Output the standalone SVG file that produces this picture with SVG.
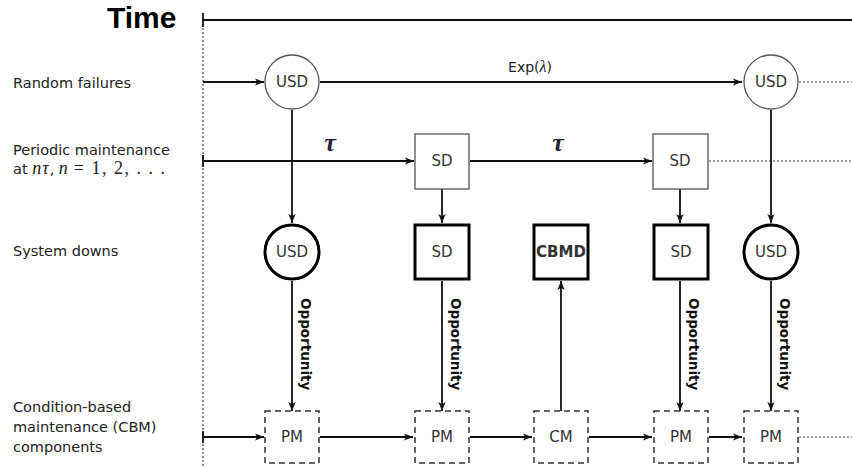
<svg xmlns="http://www.w3.org/2000/svg" width="852" height="468" viewBox="0 0 852 468">
<style>
.lbl{font-family:"DejaVu Sans",sans-serif;font-size:14.5px;fill:#222}
.m{font-family:"Liberation Serif",serif;font-size:18px}
.nt{font-family:"DejaVu Sans",sans-serif;font-size:15px;fill:#333;text-anchor:middle;dominant-baseline:central}
.thin{fill:#fff;stroke:#555;stroke-width:1.3}
.thick{fill:#fff;stroke:#000;stroke-width:3}
.dash{fill:#fff;stroke:#333;stroke-width:1.5;stroke-dasharray:6 4}
.ln{stroke:#111;stroke-width:1.8;fill:none}
.ar{stroke:#111;stroke-width:1.8;fill:none;marker-end:url(#ah)}
.dot{stroke:#444;stroke-width:1.2;stroke-dasharray:2 2;fill:none}
.opp{font-family:"DejaVu Sans",sans-serif;font-size:13.5px;font-weight:bold;fill:#111}
</style>
<defs>
<marker id="ah" viewBox="0 0 10 10" refX="10" refY="5" markerWidth="9" markerHeight="9" markerUnits="userSpaceOnUse" orient="auto">
<path d="M0,1 L10,5 L0,9 L2.5,5 Z" fill="#111"/>
</marker>
</defs>
<rect width="852" height="468" fill="#fff"/>
<text x="107" y="28" font-family="Liberation Sans,Arial,sans-serif" font-weight="bold" font-size="30" fill="#000">Time</text>
<g id="labels">
<text class="lbl" x="13" y="88">Random failures</text>
<text class="lbl" x="13" y="155">Periodic maintenance</text>
<text class="lbl" x="13" y="174">at <tspan class="m" font-style="italic" letter-spacing="1">nτ</tspan>, <tspan class="m" font-style="italic">n</tspan><tspan class="m" letter-spacing="1.5"> = 1, 2, . . .</tspan></text>
<text class="lbl" x="13" y="256">System downs</text>
<text class="lbl" x="13" y="412">Condition-based</text>
<text class="lbl" x="13" y="432">maintenance (CBM)</text>
<text class="lbl" x="13" y="452">components</text>
</g>
<g id="connectors">
<line class="ln" x1="203" y1="20" x2="852" y2="20"/>
<line class="ln" x1="203" y1="13" x2="203" y2="27"/>
<line class="dot" x1="203" y1="28" x2="203" y2="468"/>
<line class="ar" x1="203" y1="82" x2="264" y2="82"/>
<line class="ar" x1="320" y1="82" x2="742" y2="82"/>
<line class="dot" x1="799" y1="82" x2="852" y2="82"/>
<line class="ln" x1="203" y1="155" x2="203" y2="167"/>
<line class="ar" x1="203" y1="161" x2="414" y2="161"/>
<line class="ar" x1="470" y1="161" x2="652" y2="161"/>
<line class="dot" x1="709" y1="161" x2="852" y2="161"/>
<line class="ar" x1="292" y1="110" x2="292" y2="223"/>
<line class="ar" x1="442" y1="189" x2="442" y2="223"/>
<line class="ar" x1="680" y1="189" x2="680" y2="223"/>
<line class="ar" x1="771" y1="110" x2="771" y2="223"/>
<line class="ar" x1="292" y1="281" x2="292" y2="411"/>
<line class="ar" x1="442" y1="281" x2="442" y2="411"/>
<line class="ar" x1="561" y1="411" x2="561" y2="281"/>
<line class="ar" x1="680" y1="281" x2="680" y2="411"/>
<line class="ar" x1="771" y1="281" x2="771" y2="411"/>
<line class="ln" x1="203" y1="431" x2="203" y2="443"/>
<line class="ar" x1="203" y1="437" x2="264" y2="437"/>
<line class="ar" x1="320" y1="437" x2="413" y2="437"/>
<line class="ar" x1="470" y1="437" x2="532" y2="437"/>
<line class="ar" x1="589" y1="437" x2="652" y2="437"/>
<line class="ar" x1="709" y1="437" x2="742" y2="437"/>
<line class="dot" x1="799" y1="437" x2="852" y2="437"/>
<text x="530" y="72" font-family="DejaVu Sans,sans-serif" font-size="14" fill="#222" text-anchor="middle">Exp(<tspan font-family="Liberation Serif,serif" font-style="italic" font-size="16">λ</tspan>)</text>
<text x="330" y="151" font-family="Liberation Serif,serif" font-style="italic" font-weight="bold" font-size="26" fill="#223" text-anchor="middle">τ</text>
<text x="558" y="151" font-family="Liberation Serif,serif" font-style="italic" font-weight="bold" font-size="26" fill="#223" text-anchor="middle">τ</text>
<text class="opp" transform="translate(301,298) rotate(90)">Opportunity</text>
<text class="opp" transform="translate(451,298) rotate(90)">Opportunity</text>
<text class="opp" transform="translate(689,298) rotate(90)">Opportunity</text>
<text class="opp" transform="translate(780,298) rotate(90)">Opportunity</text>
</g>
<g id="rf1"><circle class="thin" cx="292" cy="82" r="27"/><text class="nt" x="292" y="82">USD</text></g>
<g id="rf2"><circle class="thin" cx="771" cy="82" r="27"/><text class="nt" x="771" y="82">USD</text></g>
<g id="pm1"><rect class="thin" x="415" y="134" width="54" height="55"/><text class="nt" x="442" y="161">SD</text></g>
<g id="pm2"><rect class="thin" x="653" y="134" width="55" height="55"/><text class="nt" x="680" y="161">SD</text></g>
<g id="sd1"><circle class="thick" cx="292" cy="252" r="27" stroke-width="2.5"/><text class="nt" x="292" y="252">USD</text></g>
<g id="sd2"><rect class="thick" x="415" y="225" width="54" height="54"/><text class="nt" x="442" y="252">SD</text></g>
<g id="sd3"><rect class="thick" x="534" y="225" width="54" height="54"/><text class="nt" x="561" y="252" font-size="12.5" font-weight="bold" fill="#111">CBMD</text></g>
<g id="sd4"><rect class="thick" x="654" y="225" width="54" height="54"/><text class="nt" x="681" y="252">SD</text></g>
<g id="sd5"><circle class="thick" cx="771" cy="252" r="27" stroke-width="2.5"/><text class="nt" x="771" y="252">USD</text></g>
<g id="c1"><rect class="dash" x="265" y="411" width="54" height="52"/><text class="nt" x="292" y="437">PM</text></g>
<g id="c2"><rect class="dash" x="415" y="411" width="54" height="52"/><text class="nt" x="442" y="437">PM</text></g>
<g id="c3"><rect class="dash" x="534" y="411" width="54" height="52"/><text class="nt" x="561" y="437">CM</text></g>
<g id="c4"><rect class="dash" x="654" y="411" width="54" height="52"/><text class="nt" x="681" y="437">PM</text></g>
<g id="c5"><rect class="dash" x="744" y="411" width="54" height="52"/><text class="nt" x="771" y="437">PM</text></g>
</svg>
